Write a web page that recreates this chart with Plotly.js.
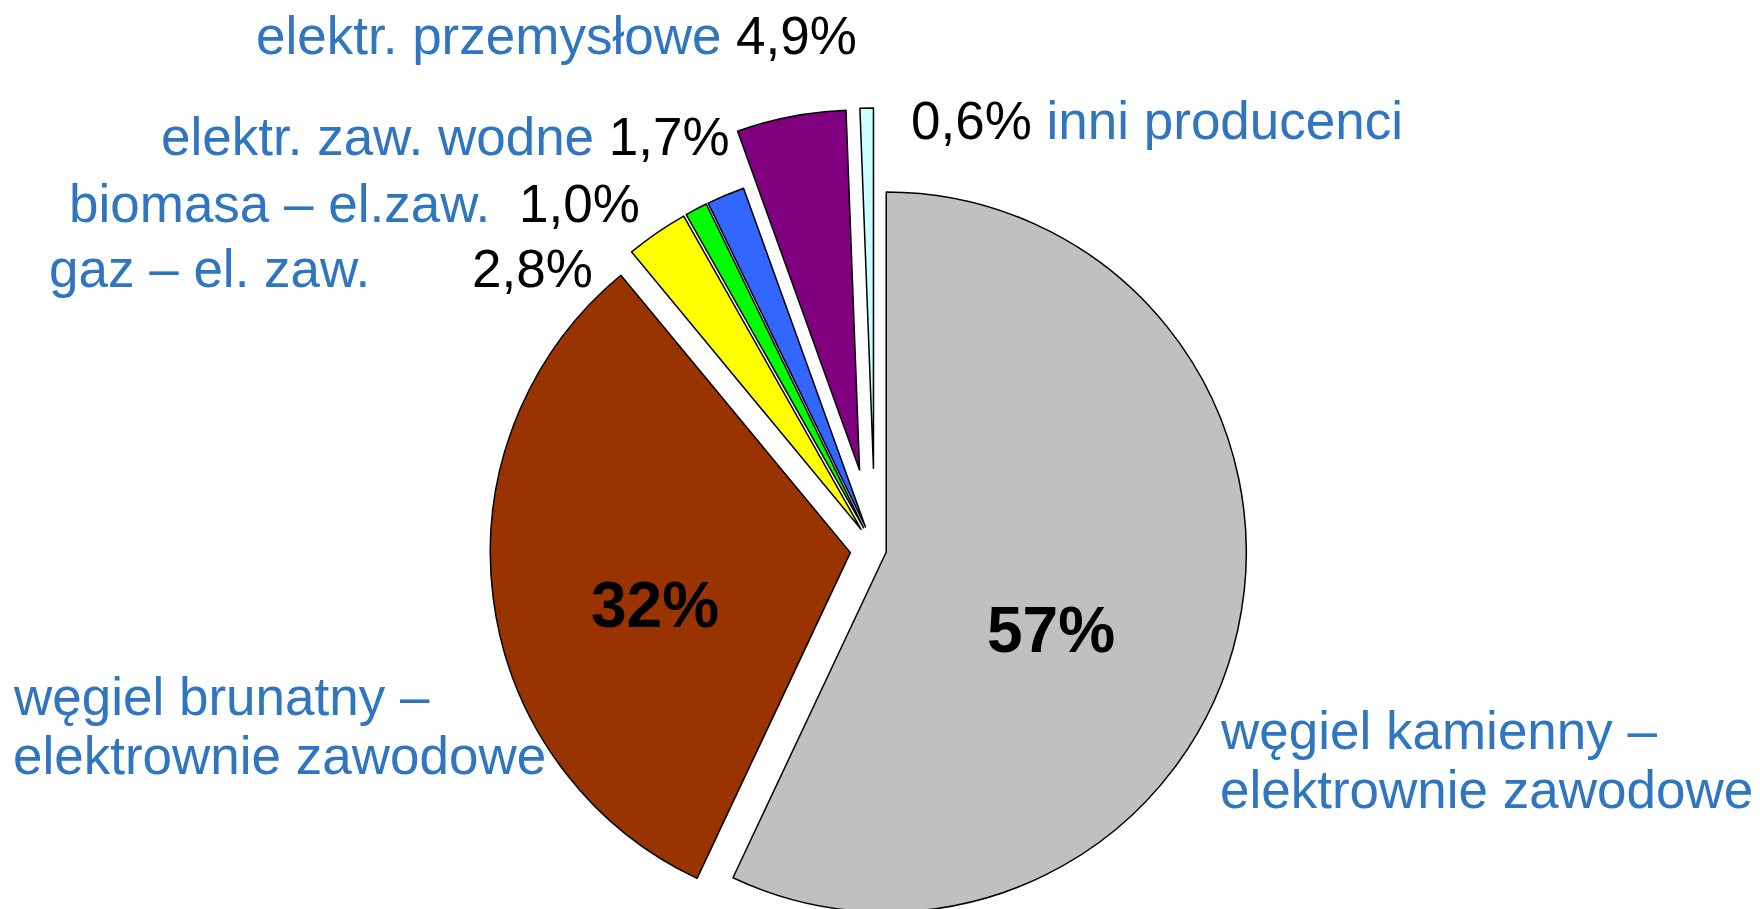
<!DOCTYPE html>
<html><head><meta charset="utf-8">
<script src="https://cdn.plot.ly/plotly-3.0.1.min.js"></script>
<style>html,body{margin:0;padding:0;overflow:hidden;background:#fff}#chart{width:1760px;height:1099px}</style>
</head><body><div id="chart"></div>
<script>
// ---- data ----
const categories = [
  'węgiel kamienny –\nelektrownie zawodowe',
  'węgiel brunatny –\nelektrownie zawodowe',
  'gaz – el. zaw.',
  'biomasa – el.zaw.',
  'elektr. zaw. wodne',
  'elektr. przemysłowe',
  'inni producenci'
];
const values = [57, 32, 2.8, 1.0, 1.7, 4.9, 0.6];

// ---- style ----
const W = 1760, H = 1099;
const px = x => x / W, py = y => 1 - y / H;
const BLUE = '#2F75C0';
const FONT = 'Arial, "Liberation Sans", sans-serif';
const colors = ['#C0C0C0', '#993300', '#FFFF00', '#00FF00', '#3366FF', '#800080', '#CCFFFF'];
const pulls = [0.032, 0.069, 0.068, 0.068, 0.068, 0.225, 0.226];
const pct = v => (v >= 10 ? v.toFixed(0) : v.toFixed(1).replace('.', ',')) + '%';
const FS = 53;

const trace = {
  type: 'pie',
  labels: categories,
  values: values,
  sort: false,
  direction: 'clockwise',
  rotation: 0,
  pull: pulls,
  marker: {colors: colors, line: {color: '#000', width: 1.5}},
  textinfo: 'none',
  hoverinfo: 'label+percent',
  showlegend: false,
  domain: {x: [px(875 - 441.4), px(875 + 441.4)], y: [0, 1]}
};

function ann(text, x, y, xanchor, color, size, bold) {
  return {
    text: bold ? '<b>' + text + '</b>' : text,
    x: px(x), y: py(y), xref: 'paper', yref: 'paper',
    xanchor: xanchor, yanchor: 'middle', showarrow: false,
    font: {family: FONT, size: size, color: color}
  };
}
const mid = b => b - 0.35 * FS;
const blk = t => '<span style="color:#000">' + t + '</span>';

const annotations = [];
// big percentages inside
annotations.push(ann(pct(values[0]), 1051, 630, 'center', '#000', 64, true));
annotations.push(ann(pct(values[1]), 655, 605, 'center', '#000', 64, true));
// two-line labels
const l0 = categories[0].split('\n');
annotations.push(ann(l0[0], 1218, mid(749), 'left', BLUE, FS));
annotations.push(ann(l0[1], 1218, mid(808), 'left', BLUE, FS));
const l1 = categories[1].split('\n');
annotations.push(ann(l1[0], 11, mid(715), 'left', BLUE, FS));
annotations.push(ann(l1[1], 11, mid(774), 'left', BLUE, FS));
// small slices
annotations.push(ann(categories[2], 47, mid(287), 'left', BLUE, FS));
annotations.push(ann(pct(values[2]), 595, mid(287), 'right', '#000', FS));
annotations.push(ann(categories[3], 67, mid(222), 'left', BLUE, FS));
annotations.push(ann(pct(values[3]), 642, mid(222), 'right', '#000', FS));
annotations.push(ann(categories[4] + ' ' + blk(pct(values[4])), 732, mid(155), 'right', BLUE, FS));
annotations.push(ann(categories[5] + ' ' + blk(pct(values[5])), 859, mid(54), 'right', BLUE, FS));
annotations.push(ann(blk(pct(values[6])) + ' ' + categories[6], 909, mid(139), 'left', BLUE, FS));

const layout = {
  width: W, height: H,
  margin: {l: 0, r: 0, t: 0, b: 0},
  paper_bgcolor: '#fff',
  showlegend: false,
  annotations: annotations
};
Plotly.newPlot('chart', [trace], layout, {displayModeBar: false, staticPlot: true});
</script></body></html>
